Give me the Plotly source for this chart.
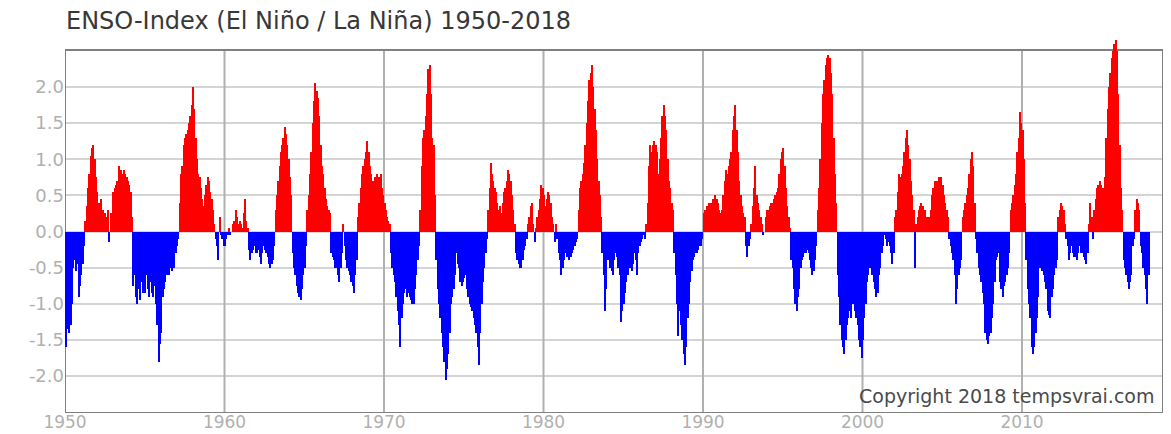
import plotly.graph_objects as go

# Monthly ENSO index, January 1950 - December 2017, one list per decade
enso_1950s = [
    -1.6, -1.35, -1.1, -1.4, -1.3, -1.0, -0.5, -0.4, -0.55, -0.45, -0.9, -0.75,
    -0.6, -0.45, -0.2, 0.15, 0.35, 0.6, 0.8, 1.05, 1.15, 1.2, 1.0, 0.75,
    0.55, 0.4, 0.35, 0.45, 0.3, 0.05, 0.25, 0.2, 0.3, -0.15, 0.25, 0.1,
    0.55, 0.6, 0.65, 0.7, 0.9, 0.8, 0.85, 0.8, 0.85, 0.8, 0.75, 0.7,
    0.65, 0.55, 0.2, -0.75, -0.6, -0.9, -1.0, -0.8, -0.95, -0.7, -0.85, -0.75,
    -0.85, -0.6, -0.8, -0.9, -0.7, -0.85, -0.9, -0.75, -1.0, -1.3, -1.8, -1.55,
    -1.4, -0.9, -0.8, -0.7, -0.6, -0.55, -0.6, -0.5, -0.55, -0.45, -0.5, -0.3,
    -0.2, -0.1, 0.4, 0.8, 0.9, 1.2, 1.3, 1.35, 1.4, 1.5, 1.6, 1.75,
    2.0, 1.7, 1.3, 1.0, 0.8, 0.75, 0.6, 0.45, 0.35, 0.5, 0.65, 0.75,
    0.7, 0.55, 0.45, 0.3, 0.1, -0.1, -0.2, -0.4, 0.2, -0.05, -0.1, -0.2,
]
enso_1960s = [
    -0.2, -0.1, -0.05, 0.05, -0.05, 0.0, 0.1, 0.15, 0.3, 0.2, 0.1, 0.15,
    0.1, 0.05, 0.25, 0.45, 0.15, 0.05, -0.25, -0.4, -0.3, -0.25, -0.2, -0.3,
    -0.3, -0.25, -0.35, -0.45, -0.3, -0.2, -0.25, -0.3, -0.35, -0.45, -0.5, -0.45,
    -0.4, -0.2, 0.3, 0.5, 0.7, 0.9, 1.1, 1.2, 1.3, 1.45, 1.35, 1.2,
    1.0, 0.75, 0.5, -0.3, -0.5, -0.6, -0.75, -0.85, -0.9, -0.95, -0.8, -0.6,
    -0.5, -0.2, 0.3, 0.5, 0.8, 1.1, 1.5, 1.8, 2.05, 1.95, 1.85, 1.6,
    1.2, 0.9, 0.8, 0.6, 0.45, 0.35, 0.3, 0.25, -0.3, -0.35, -0.4, -0.5,
    -0.5, -0.6, -0.7, -0.5, -0.3, 0.1, -0.2, -0.4, -0.5, -0.55, -0.6, -0.7,
    -0.75, -0.85, -0.6, -0.4, 0.2, 0.4, 0.6, 0.8, 0.9, 1.0, 1.1, 1.25,
    1.1, 0.9, 0.8, 0.7, 0.65, 0.75, 0.8, 0.75, 0.75, 0.8, 0.6, 0.5,
]
enso_1970s = [
    0.4, 0.3, 0.2, 0.15, 0.1, -0.3, -0.5, -0.6, -0.7, -0.9, -1.1, -1.3,
    -1.6, -1.2, -1.0, -0.85, -0.8, -0.9, -0.85, -0.9, -0.95, -1.0, -1.0, -0.8,
    -0.6, -0.4, -0.2, 0.3, 0.9, 1.3, 1.4, 1.6, 1.9, 2.25, 2.3, 1.9,
    1.3, 1.2, 0.5, -0.4, -0.8, -1.0, -1.2, -1.4, -1.6, -1.8, -2.05, -1.9,
    -1.7, -1.4, -1.0, -0.9, -0.8, -0.6, -0.3, -0.45, -0.5, -0.7, -0.75, -0.7,
    -0.65, -0.6, -0.8, -0.9, -1.0, -1.05, -1.1, -1.2, -1.3, -1.4, -1.6, -1.85,
    -1.4, -1.0, -0.7, -0.5, -0.3, -0.1, 0.3, 0.6, 0.95, 0.8, 0.7, 0.6,
    0.55, 0.4, 0.3, 0.35, 0.25, 0.4, 0.55, 0.6, 0.7, 0.85, 0.8, 0.7,
    0.5, 0.3, 0.1, -0.3, -0.4, -0.45, -0.5, -0.5, -0.4, -0.25, -0.2, -0.1,
    0.1, 0.2, 0.35, 0.4, 0.1, -0.15, 0.05, 0.2, 0.3, 0.45, 0.65, 0.6,
]
enso_1980s = [
    0.5, 0.35, 0.45, 0.55, 0.5, 0.4, 0.2, 0.1, -0.15, 0.1, -0.1, -0.3,
    -0.4, -0.6, -0.5, -0.4, -0.3, -0.35, -0.3, -0.4, -0.35, -0.3, -0.25, -0.2,
    -0.15, -0.1, 0.3, 0.6, 0.7, 0.8, 0.95, 1.2, 1.5, 1.8, 2.1, 2.2,
    2.3, 2.0, 1.7, 1.4, 1.0, 0.7, 0.5, 0.2, -0.3, -0.6, -1.1, -0.8,
    -0.4, -0.35, -0.5, -0.55, -0.6, -0.4, -0.3, -0.35, -0.5, -0.6, -1.25, -1.1,
    -1.0, -0.85, -0.7, -0.6, -0.5, -0.5, -0.55, -0.45, -0.3, -0.4, -0.6, -0.3,
    -0.2, -0.15, -0.1, -0.05, -0.1, 0.1, 0.4, 0.9, 1.2, 1.1, 1.2, 1.25,
    1.2, 1.1, 0.8, 1.0, 1.3, 1.6, 1.75, 1.6, 1.4, 1.0, 0.7, 0.6,
    0.4, 0.3, -0.3, -0.6, -1.0, -1.45, -1.1, -1.3, -1.5, -1.7, -1.85, -1.6,
    -1.2, -1.0, -0.7, -0.55, -0.4, -0.35, -0.3, -0.3, -0.25, -0.2, -0.2, -0.1,
]
enso_1990s = [
    0.25, 0.3, 0.3, 0.35, 0.4, 0.35, 0.4, 0.45, 0.45, 0.5, 0.45, 0.4,
    0.3, 0.25, 0.3, 0.5, 0.7, 0.85, 0.8, 0.9, 1.0, 1.1, 1.4, 1.6,
    1.75, 1.4, 1.1, 0.7, 0.5, 0.35, 0.25, 0.2, -0.2, -0.35, -0.2, -0.1,
    0.1, 0.35, 0.6, 0.9, 0.5, 0.4, 0.3, 0.2, 0.1, -0.05, 0.0, 0.2,
    0.3, 0.3, 0.35, 0.4, 0.4, 0.45, 0.5, 0.55, 0.6, 0.8, 1.0, 1.1,
    1.15, 0.9, 0.6, 0.35, 0.2, 0.05, -0.4, -0.5, -0.8, -1.0, -1.1, -0.9,
    -0.8, -0.5, -0.4, -0.35, -0.3, -0.3, -0.25, -0.3, -0.4, -0.5, -0.6, -0.55,
    -0.4, -0.2, 0.3, 0.6, 1.0, 1.5, 1.9, 2.1, 2.3, 2.4, 2.45, 2.4,
    2.2, 1.9, 1.3, 0.8, 0.4, -0.6, -0.9, -1.3, -1.5, -1.6, -1.7, -1.5,
    -1.3, -1.2, -1.1, -1.2, -1.0, -1.0, -1.1, -1.2, -1.3, -1.5, -1.6, -1.75,
]
enso_2000s = [
    -1.5, -1.2, -1.0, -0.7, -0.6, -0.5, -0.5, -0.6, -0.7, -0.8, -0.9, -0.85,
    -0.6, -0.5, -0.3, -0.2, -0.05, -0.1, -0.2, -0.15, -0.2, -0.3, -0.45, -0.3,
    0.2, 0.3, 0.55, 0.8, 0.75, 0.8, 0.9, 1.1, 1.3, 1.4, 1.2, 1.0,
    0.7, 0.5, 0.3, -0.5, 0.1, 0.2, 0.3, 0.35, 0.4, 0.35, 0.3, 0.3,
    0.2, 0.15, 0.2, 0.3, 0.5, 0.6, 0.7, 0.65, 0.7, 0.75, 0.7, 0.75,
    0.65, 0.5, 0.4, 0.3, 0.2, -0.1, -0.2, -0.3, -0.4, -0.6, -1.0, -0.8,
    -0.6, -0.5, -0.4, 0.2, 0.3, 0.4, 0.5, 0.6, 0.8, 1.0, 1.1, 0.9,
    0.4, -0.1, -0.3, -0.5, -0.6, -0.7, -0.85, -1.0, -1.4, -1.5, -1.55, -1.45,
    -1.4, -1.2, -1.0, -0.7, -0.4, -0.35, -0.3, -0.7, -0.8, -0.9, -0.75, -0.7,
    -0.6, -0.5, -0.3, 0.3, 0.4, 0.5, 0.65, 0.8, 1.1, 1.3, 1.65, 1.5,
]
enso_2010s = [
    1.4, 1.0, 0.4, -0.4, -0.8, -1.0, -1.2, -1.6, -1.7, -1.6, -1.4, -1.2,
    -0.9, -0.5, -0.5, -0.55, -0.6, -0.7, -0.8, -1.1, -1.15, -1.2, -0.9, -0.8,
    -0.6, -0.5, -0.4, 0.2, 0.3, 0.4, 0.35, 0.3, 0.1, -0.1, -0.2, -0.4,
    -0.3, -0.2, -0.3, -0.35, -0.35, -0.4, -0.3, -0.2, -0.3, -0.3, -0.35, -0.4,
    -0.45, -0.3, 0.1, 0.4, 0.2, -0.1, 0.3, 0.45, 0.6, 0.65, 0.7, 0.65,
    0.6, 0.6, 0.75, 1.3, 1.7, 2.0, 2.2, 2.4, 2.5, 2.6, 2.65, 2.5,
    1.9, 1.2, 0.6, 0.3, -0.4, -0.5, -0.6, -0.7, -0.8, -0.7, -0.6, -0.2,
    -0.1, 0.3, 0.45, 0.4, 0.3, -0.2, -0.3, -0.5, -0.6, -0.8, -1.0, -0.6,
]

start_year = 1950
decade_ticks = [1950, 1960, 1970, 1980, 1990, 2000, 2010]
decade_labels = ["1950", "1960", "1970", "1980", "1990", "2000", "2010"]
value_ticks = [-2.0, -1.5, -1.0, -0.5, 0.0, 0.5, 1.0, 1.5, 2.0]
value_labels = ["-2.0", "-1.5", "-1.0", "-0.5", "0.0", "0.5", "1.0", "1.5", "2.0"]

title_text = "ENSO-Index (El Niño / La Niña) 1950-2018"
credit_text = "Copyright 2018 tempsvrai.com"

values = enso_1950s + enso_1960s + enso_1970s + enso_1980s + enso_1990s + enso_2000s + enso_2010s
months = [start_year + (i + 0.5) / 12 for i in range(len(values))]
colors = ["#ff0000" if v >= 0 else "#0000ff" for v in values]

X_MIN, X_MAX = 1950.0, 2018.84
Y_FRAME = 2.512          # frame spans -2.512 .. 2.512
Y_TOP = 2.706            # extra headroom so strong peaks can rise over the frame

FONT = "DejaVu Sans"
LABEL_GREY = "#b0b0b0"

fig = go.Figure()
fig.add_trace(go.Bar(
    x=months,
    y=values,
    width=1 / 12,
    marker=dict(color=colors, line=dict(width=0)),
    hoverinfo="skip",
    showlegend=False,
))

shapes = []
# decade lines stop at the frame
for yr in decade_ticks[1:]:
    shapes.append(dict(
        type="line", xref="x", yref="y",
        x0=yr, x1=yr, y0=-Y_FRAME, y1=Y_FRAME,
        line=dict(color="#b0b0b0", width=2), layer="between",
    ))
# plot frame
shapes.append(dict(
    type="rect", xref="x", yref="y",
    x0=X_MIN, x1=X_MAX, y0=-Y_FRAME, y1=Y_FRAME,
    line=dict(color="#808080", width=2), fillcolor="rgba(0,0,0,0)", layer="between",
))

fig.update_layout(
    width=1171,
    height=434,
    margin=dict(l=65, r=8, t=36, b=21, pad=0, autoexpand=False),
    paper_bgcolor="white",
    plot_bgcolor="white",
    bargap=0,
    font=dict(family=FONT),
    shapes=shapes,
    xaxis=dict(
        range=[X_MIN, X_MAX],
        tickmode="array", tickvals=decade_ticks, ticktext=decade_labels,
        showgrid=False, zeroline=False, showline=False, ticks="",
        tickfont=dict(family=FONT, size=17, color=LABEL_GREY),
        ticklabelstandoff=-3,
        automargin=False, fixedrange=True,
    ),
    yaxis=dict(
        range=[-Y_FRAME, Y_TOP],
        tickmode="array", tickvals=value_ticks, ticktext=value_labels,
        showgrid=True, gridcolor="#d4d4d4", gridwidth=2,
        zeroline=False, showline=False, ticks="",
        tickfont=dict(family=FONT, size=18, color=LABEL_GREY),
        automargin=False, fixedrange=True,
    ),
    annotations=[
        dict(
            text=title_text, xref="paper", yref="paper",
            x=0, y=1 + 15 / 377, xanchor="left", yanchor="middle",
            xshift=-1, showarrow=False,
            font=dict(family=FONT, size=24, color="#383838"),
        ),
        dict(
            text=credit_text, xref="paper", yref="y",
            x=1, y=-2.28, xanchor="right", yanchor="middle",
            xshift=-7, showarrow=False,
            font=dict(family=FONT, size=19, color="#4a4a4a"),
        ),
    ],
)

fig.write_html("out.html", config={"displayModeBar": False})
